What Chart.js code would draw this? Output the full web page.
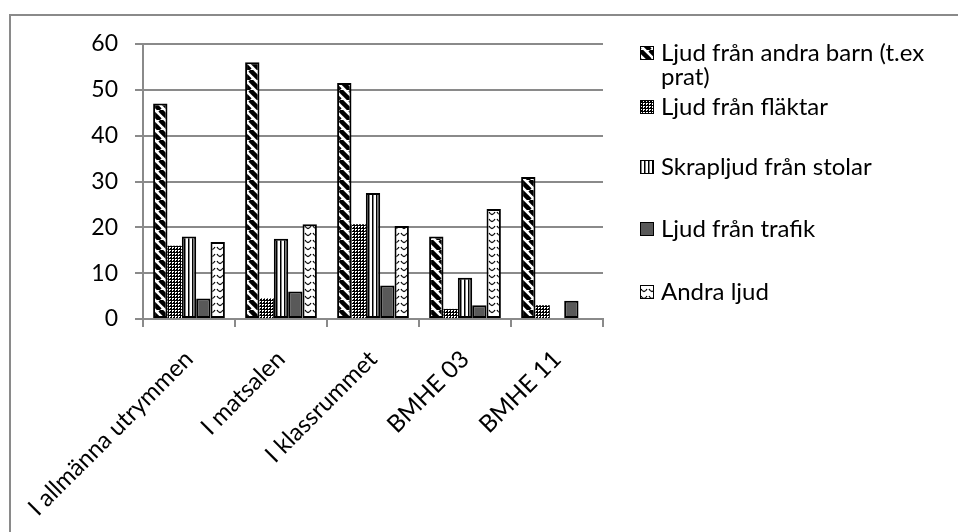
<!DOCTYPE html>
<html>
<head>
<meta charset="utf-8">
<script src="https://cdn.jsdelivr.net/npm/chart.js@4.4.1/dist/chart.umd.min.js"></script>
<style>
  html, body { margin: 0; padding: 0; background: #fff; }
  #wrap { position: relative; width: 958px; height: 532px; overflow: hidden; }
  #frame { position: absolute; left: 9px; top: 14px; width: 1000px; height: 600px; border: 2px solid #8a8a8a; box-sizing: border-box; }
  canvas { position: absolute; left: 0; top: 0; }
</style>
</head>
<body>
<div id="wrap">
  <div id="frame"></div>
  <canvas id="chart" width="958" height="532"></canvas>
</div>
<script>
const categories = ["I allmänna utrymmen", "I matsalen", "I klassrummet", "BMHE 03", "BMHE 11"];
const seriesNames = ["Ljud från andra barn (t.ex prat)", "Ljud från fläktar", "Skrapljud från stolar", "Ljud från trafik", "Andra ljud"];

const andraBarn = [47, 56, 51.5, 18, 31];
const flaktar = [16, 4.5, 20.7, 2.2, 3];
const stolar = [18, 17.5, 27.5, 9, null];
const trafik = [4.5, 6, 7.3, 3, 4];
const andraLjud = [16.8, 20.7, 20.3, 24, null];

const yTicks = [0, 10, 20, 30, 40, 50, 60];

const canvas = document.getElementById("chart");
const ctx = canvas.getContext("2d");

// small tiles for the hatch fills
function makePattern(w, h, draw) {
  const c = document.createElement("canvas");
  c.width = w;
  c.height = h;
  const g = c.getContext("2d");
  g.fillStyle = "#fff";
  g.fillRect(0, 0, w, h);
  g.strokeStyle = "#000";
  g.fillStyle = "#000";
  draw(g);
  return ctx.createPattern(c, "repeat");
}

const stripes = makePattern(10, 10, g => {
  g.lineWidth = 4.5;
  for (let a = -10; a <= 10; a += 10) {
    g.beginPath();
    g.moveTo(a, 0);
    g.lineTo(a + 10, 10);
    g.stroke();
  }
});

const checker = makePattern(3, 3, g => {
  g.fillRect(0, 0, 3, 1);
  g.fillRect(0, 0, 1, 3);
  g.fillRect(2, 2, 1, 1);
});

const vertical = makePattern(4, 4, g => {
  g.fillRect(0, 0, 1.5, 4);
});

const waves = makePattern(8, 7, g => {
  g.lineWidth = 1.3;
  g.beginPath();
  g.moveTo(1, 2);
  g.quadraticCurveTo(4, 7, 7, 2);
  g.stroke();
});

function wrapText(c, text, maxWidth) {
  const words = text.split(" ");
  const lines = [];
  let line = "";
  words.forEach(w => {
    const test = line ? line + " " + w : w;
    if (c.measureText(test).width > maxWidth && line) {
      lines.push(line);
      line = w;
    } else {
      line = test;
    }
  });
  lines.push(line);
  return lines;
}

const sideLegend = {
  id: "sideLegend",
  afterDraw(chart, args, opts) {
    const c = chart.ctx;
    c.save();
    c.font = opts.font;
    c.textBaseline = "middle";
    chart.data.datasets.forEach((ds, i) => {
      const y = opts.rows[i];
      c.fillStyle = ds.backgroundColor;
      c.fillRect(opts.x, y - 7, 14, 14);
      c.strokeStyle = "#000";
      c.lineWidth = 1;
      c.strokeRect(opts.x + 0.5, y - 6.5, 13, 13);
      c.fillStyle = "#000";
      wrapText(c, ds.label, opts.maxWidth).forEach((line, k) => {
        c.fillText(line, opts.x + 21, y + k * opts.lineHeight);
      });
    });
    c.restore();
  }
};

const gridColor = "#8a8a8a";

const fills = [stripes, checker, vertical, "#595959", waves];
const values = [andraBarn, flaktar, stolar, trafik, andraLjud];

new Chart(ctx, {
  type: "bar",
  data: {
    labels: categories,
    datasets: seriesNames.map((name, i) => ({
      label: name,
      data: values[i],
      backgroundColor: fills[i],
      borderColor: "#000",
      borderWidth: i === 1 ? 0 : 2,
      borderSkipped: false,
      barPercentage: 1,
      categoryPercentage: 0.78
    }))
  },
  options: {
    responsive: false,
    animation: false,
    layout: { padding: { top: 44, right: 355, left: 0, bottom: 0 } },
    plugins: {
      legend: { display: false },
      tooltip: { enabled: false },
      sideLegend: {
        x: 640,
        rows: [53, 107, 167, 229, 292],
        lineHeight: 24,
        maxWidth: 290,
        font: "24px Lato"
      }
    },
    scales: {
      x: {
        ticks: { color: "#000", font: { family: "Lato", size: 24 }, minRotation: 45, maxRotation: 45, autoSkip: false, padding: 18 },
        grid: { display: true, drawOnChartArea: false, color: gridColor, lineWidth: 2, tickLength: 8 },
        border: { color: gridColor, width: 2 },
        afterFit(scale) { scale.height = 532 - 319; }
      },
      y: {
        min: 0,
        max: 60,
        afterBuildTicks(scale) { scale.ticks = yTicks.map(v => ({ value: v })); },
        ticks: { color: "#000", font: { family: "Lato", size: 23 }, padding: 17 },
        grid: { color: gridColor, lineWidth: 2, tickLength: 8 },
        border: { color: gridColor, width: 2 },
        afterFit(scale) { scale.width = 143; }
      }
    }
  },
  plugins: [sideLegend]
});
</script>
</body>
</html>
